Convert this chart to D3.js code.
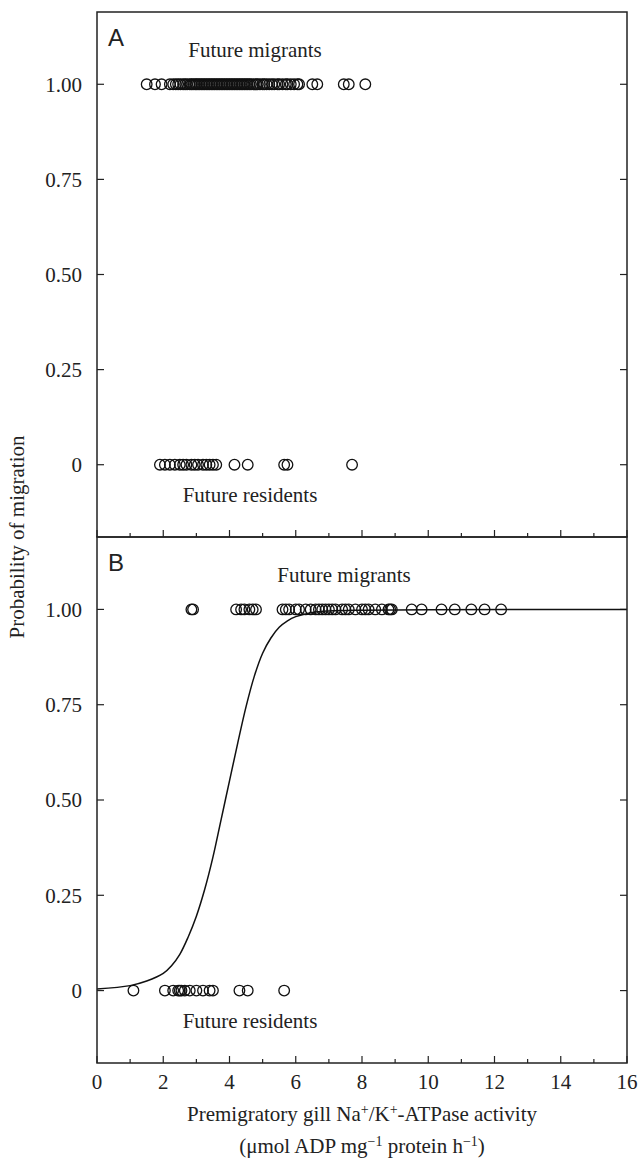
<!DOCTYPE html>
<html><head><meta charset="utf-8">
<script src="https://cdn.jsdelivr.net/npm/d3@7"></script>
<style>body{margin:0;background:#fff}svg{display:block}</style>
</head><body>
<svg id="c" width="639" height="1171"></svg>
<script>
// ---- data ----
const migrantsA = [1.5,1.75,1.95,2.2,2.3,2.38,2.45,2.52,2.6,2.66,2.72,2.8,2.85,2.9,2.96,3.0,3.05,3.1,3.15,3.2,3.25,3.3,3.35,3.4,3.45,3.5,3.55,3.6,3.65,3.7,3.75,3.8,3.85,3.9,3.95,4.0,4.05,4.1,4.15,4.2,4.25,4.3,4.35,4.4,4.45,4.5,4.55,4.6,4.65,4.72,4.8,4.85,4.92,5.0,5.05,5.12,5.2,5.28,5.35,5.45,5.5,5.6,5.7,5.75,5.85,5.95,6.05,6.1,6.5,6.65,7.45,7.6,8.1];
const residentsA = [1.9,2.05,2.2,2.35,2.5,2.6,2.7,2.85,2.95,3.05,3.2,3.3,3.4,3.5,3.6,4.15,4.55,5.65,5.75,7.7];
const migrantsB = [2.85,2.9,4.2,4.35,4.45,4.6,4.7,4.8,5.6,5.7,5.8,6.0,6.1,6.3,6.45,6.6,6.7,6.8,6.9,7.0,7.1,7.2,7.4,7.5,7.6,7.8,8.0,8.1,8.2,8.4,8.6,8.8,8.85,8.9,9.5,9.8,10.4,10.8,11.3,11.7,12.2];
const residentsB = [1.1,2.05,2.3,2.45,2.5,2.55,2.65,2.8,3.0,3.2,3.4,3.5,4.3,4.55,5.65];
const curveX = [0,1,1.5,2,2.25,2.5,2.75,3,3.25,3.5,3.75,4,4.25,4.5,4.75,5,5.25,5.5,5.75,6,6.5,7,8,10,16];
const curveP = [0.004,0.013,0.025,0.045,0.065,0.095,0.14,0.195,0.265,0.35,0.45,0.55,0.65,0.745,0.825,0.885,0.925,0.953,0.97,0.981,0.992,0.996,0.998,0.999,1.0];
const yTickVals = [0,0.25,0.5,0.75,1.0];
const yTickLabels = ["0","0.25","0.50","0.75","1.00"];
const xTickVals = [0,2,4,6,8,10,12,14,16];

// ---- layout ----
const svg = d3.select("#c");
const L = 97, R = 627;
const x = d3.scaleLinear().domain([0,16]).range([L,R]);
const yA = d3.scaleLinear().domain([-0.19,1.19]).range([537,12]);
const yB = d3.scaleLinear().domain([-0.19,1.19]).range([1063,537]);
const serif = "'Liberation Serif','Times New Roman',serif";
const sans = "'Liberation Sans',Arial,sans-serif";
const ink = "#222";

function panel(y, top, bottom, mig, res, letter, drawCurve, bottomLabels){
  const g = svg.append("g");
  yTickVals.forEach((v,i)=>{
    g.append("line").attr("x1",L).attr("x2",L+7).attr("y1",y(v)).attr("y2",y(v)).attr("stroke",ink).attr("stroke-width",1.2);
    g.append("line").attr("x1",R).attr("x2",R-7).attr("y1",y(v)).attr("y2",y(v)).attr("stroke",ink).attr("stroke-width",1.2);
    g.append("text").attr("x",82).attr("y",y(v)).attr("dy","0.35em").attr("text-anchor","end")
      .attr("font-family",serif).attr("font-size",21).attr("fill",ink).text(yTickLabels[i]);
  });
  d3.range(0,17).forEach(v=>{
    const len = v%2===0 ? 7 : 4;
    g.append("line").attr("x1",x(v)).attr("x2",x(v)).attr("y1",bottom).attr("y2",bottom-len).attr("stroke",ink).attr("stroke-width",1.2);
  });
  if(bottomLabels){
    xTickVals.forEach(v=>{
      g.append("text").attr("x",x(v)).attr("y",bottom+26).attr("text-anchor","middle")
        .attr("font-family",serif).attr("font-size",21).attr("fill",ink).text(v);
    });
  }
  if(drawCurve){
    const line = d3.line().x((d,i)=>x(curveX[i])).y((d,i)=>y(curveP[i])).curve(d3.curveCatmullRom.alpha(0.5));
    g.append("path").datum(curveX).attr("d",line).attr("fill","none").attr("stroke","#111").attr("stroke-width",1.5);
  }
  g.selectAll(".m").data(mig).join("circle").attr("cx",d=>x(d)).attr("cy",y(1)).attr("r",5.3)
    .attr("fill","none").attr("stroke","#111").attr("stroke-width",1.3);
  g.selectAll(".r").data(res).join("circle").attr("cx",d=>x(d)).attr("cy",y(0)).attr("r",5.3)
    .attr("fill","none").attr("stroke","#111").attr("stroke-width",1.3);
  g.append("rect").attr("x",L).attr("y",top).attr("width",R-L).attr("height",bottom-top)
    .attr("fill","none").attr("stroke",ink).attr("stroke-width",1.5);
  g.append("text").attr("x",L+11).attr("y",top+34).attr("font-family",sans).attr("font-size",24).attr("fill",ink).text(letter);
  g.append("text").attr("x",letter==="A"?255:344).attr("y",y(1)-27).attr("text-anchor","middle")
    .attr("font-family",serif).attr("font-size",21).attr("fill",ink).text("Future migrants");
  g.append("text").attr("x",250).attr("y",y(0)+37).attr("text-anchor","middle")
    .attr("font-family",serif).attr("font-size",21).attr("fill",ink).text("Future residents");
}

panel(yA, 12, 537, migrantsA, residentsA, "A", false, false);
panel(yB, 537, 1063, migrantsB, residentsB, "B", true, true);

svg.append("text").attr("transform","translate(24,537) rotate(-90)").attr("text-anchor","middle")
  .attr("font-family",serif).attr("font-size",21).attr("fill",ink).text("Probability of migration");

const t1 = svg.append("text").attr("x",(L+R)/2).attr("y",1121).attr("text-anchor","middle")
  .attr("font-family",serif).attr("font-size",21).attr("fill",ink);
t1.append("tspan").text("Premigratory gill Na");
t1.append("tspan").attr("baseline-shift","super").attr("font-size",14).text("+");
t1.append("tspan").text("/K");
t1.append("tspan").attr("baseline-shift","super").attr("font-size",14).text("+");
t1.append("tspan").text("-ATPase activity");
const t2 = svg.append("text").attr("x",(L+R)/2).attr("y",1153).attr("text-anchor","middle")
  .attr("font-family",serif).attr("font-size",21).attr("fill",ink);
t2.append("tspan").text("(μmol ADP mg");
t2.append("tspan").attr("baseline-shift","super").attr("font-size",14).text("−1");
t2.append("tspan").text(" protein h");
t2.append("tspan").attr("baseline-shift","super").attr("font-size",14).text("−1");
t2.append("tspan").text(")");
</script>
</body></html>
